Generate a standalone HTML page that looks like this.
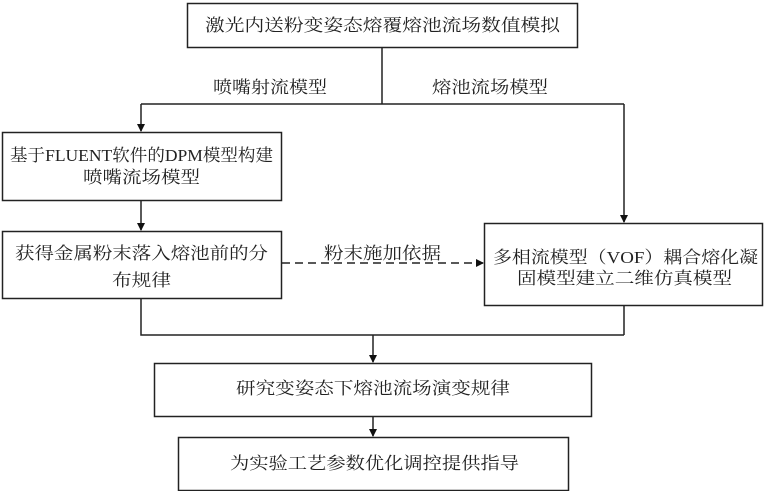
<!DOCTYPE html>
<html><head><meta charset="utf-8"><style>html,body{margin:0;padding:0;background:#fff}svg{display:block}</style></head>
<body>
<svg width="764" height="491" viewBox="0 0 764 491" xmlns="http://www.w3.org/2000/svg" font-family="'Liberation Serif','Noto Serif CJK SC',serif" font-size="17" fill="#222">
<defs><marker id="a" markerWidth="8" markerHeight="8" refX="7" refY="4" orient="auto" markerUnits="userSpaceOnUse"><path d="M0,0 L8,4 L0,8 z" fill="#111"/></marker></defs>
<g stroke="#222" stroke-width="1.5" fill="none">
<rect x="187.5" y="3.5" width="390" height="44"/>
<rect x="2.5" y="132.5" width="279" height="68"/>
<rect x="2.5" y="231.5" width="279" height="67"/>
<rect x="484.5" y="223.5" width="278" height="82"/>
<rect x="154.5" y="363.5" width="437" height="53"/>
<rect x="178.5" y="437.5" width="390" height="53"/>
<path d="M382,47 V104 M141,104 H624 M624,306 V335 M141,298 V335 H624"/>
<path d="M141,104 V131" marker-end="url(#a)"/>
<path d="M624,104 V222" marker-end="url(#a)"/>
<path d="M141,200 V230" marker-end="url(#a)"/>
<path d="M373,335 V362" marker-end="url(#a)"/>
<path d="M373,417 V436" marker-end="url(#a)"/>
<path d="M282,263 H483" stroke-dasharray="8,5" marker-end="url(#a)"/>
</g>
<g stroke="none">
<text x="205" y="31" textLength="355" lengthAdjust="spacingAndGlyphs">激光内送粉变姿态熔覆熔池流场数值模拟</text>
<text x="213" y="93" textLength="114" lengthAdjust="spacingAndGlyphs">喷嘴射流模型</text>
<text x="432" y="93" textLength="116" lengthAdjust="spacingAndGlyphs">熔池流场模型</text>
<text x="10" y="161" textLength="263" lengthAdjust="spacingAndGlyphs">基于FLUENT软件的DPM模型构建</text>
<text x="83" y="183" textLength="117" lengthAdjust="spacingAndGlyphs">喷嘴流场模型</text>
<text x="15" y="259" textLength="253" lengthAdjust="spacingAndGlyphs">获得金属粉末落入熔池前的分</text>
<text x="112" y="286" textLength="59" lengthAdjust="spacingAndGlyphs">布规律</text>
<text x="324" y="259" textLength="117" lengthAdjust="spacingAndGlyphs">粉末施加依据</text>
<text x="493" y="263" textLength="265" lengthAdjust="spacingAndGlyphs">多相流模型（VOF）耦合熔化凝</text>
<text x="517" y="284" textLength="215" lengthAdjust="spacingAndGlyphs">固模型建立二维仿真模型</text>
<text x="236" y="394" textLength="274" lengthAdjust="spacingAndGlyphs">研究变姿态下熔池流场演变规律</text>
<text x="230" y="469" textLength="289" lengthAdjust="spacingAndGlyphs">为实验工艺参数优化调控提供指导</text>
</g>
</svg>
</body></html>
